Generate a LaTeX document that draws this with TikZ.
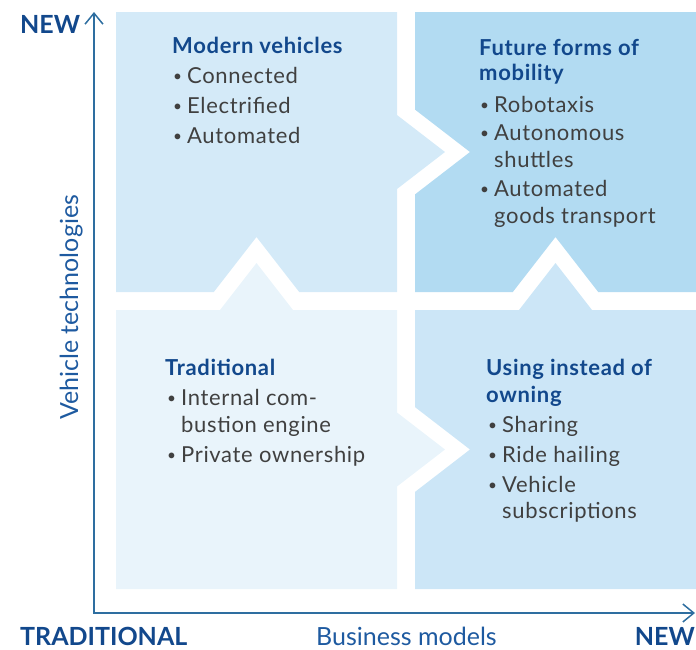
\documentclass[tikz,border=0pt]{standalone}
\usepackage{fontspec}
\setmainfont{Lato}
\newfontfamily\spaced[LetterSpace=3]{Lato}
\usetikzlibrary{arrows.meta}
\definecolor{qTL}{RGB}{212,234,248}
\definecolor{qTR}{RGB}{178,219,242}
\definecolor{qBL}{RGB}{233,244,251}
\definecolor{qBR}{RGB}{204,230,247}
\definecolor{headc}{RGB}{18,72,140}
\definecolor{axlblc}{RGB}{30,90,160}
\definecolor{bodyc}{RGB}{64,64,64}
\definecolor{axisc}{RGB}{46,110,160}
\newcommand\qbul{\makebox[14pt][l]{\raisebox{1.6pt}{\scalebox{0.7}{\textbullet}}}}
\begin{document}
\begin{tikzpicture}[x=1pt,y=-1pt,
  qhead/.style={font=\spaced\fontsize{22}{26}\selectfont\bfseries, text=headc, anchor=base west, inner sep=0pt},
  qitem/.style={font=\spaced\fontsize{22}{26}\selectfont, text=bodyc, anchor=base west, inner sep=0pt},
  axbold/.style={font=\fontsize{25}{30}\selectfont\bfseries, text=headc, inner sep=0pt},
  axname/.style={font=\fontsize{25}{30}\selectfont, text=axlblc, inner sep=0pt},
  axisline/.style={draw=axisc, line width=1.5pt, {Straight Barb[length=11pt,width=18pt]}-{Straight Barb[length=11pt,width=18pt]}}
]
\useasboundingbox (0,0) rectangle (696,649);
% quadrants
\fill[qTL] (116,12) -- (397,12) -- (397,115) -- (445,152) -- (397,189) -- (397,292)
  -- (299.2,292) -- (256.5,237) -- (213.8,292) -- (116,292) -- cycle;
\fill[qTR] (415,12) -- (696,12) -- (696,292) -- (598.2,292) -- (555.5,237) -- (512.8,292)
  -- (415,292) -- (415,194.4) -- (470,152) -- (415,109.6) -- cycle;
\fill[qBL] (116,310) -- (220,310) -- (256.5,263) -- (293,310) -- (397,310) -- (397,412.5)
  -- (445,449.5) -- (397,486.5) -- (397,589) -- (116,589) -- cycle;
\fill[qBR] (415,310) -- (519,310) -- (555.5,263) -- (592,310) -- (696,310) -- (696,589)
  -- (415,589) -- (415,491.9) -- (470,449.5) -- (415,407.1) -- cycle;
% axes
\coordinate (ytop) at (94,12);
\coordinate (origin) at (94,613);
\coordinate (xend) at (695,613);
\draw[axisline] (ytop) -- (origin) -- (xend);
\node[axbold, anchor=base west] (newy) at (20,33) {NEW};
\node[axbold, anchor=base west] (trad) at (20,645) {TRADITIONAL};
\node[axname, anchor=base west] (bm) at (316,645) {Business models};
\node[axbold, anchor=base east] (newx) at (695,645) {NEW};
\node[axname, anchor=base west, rotate=90] (vt) at (78,420) {Vehicle technologies};
% top left
\node[qhead] (tlh) at (172,53) {Modern vehicles};
\node[qitem] (tl1) at (173,83) {\qbul Connected};
\node[qitem] (tl2) at (173,113) {\qbul Electrified};
\node[qitem] (tl3) at (173,143) {\qbul Automated};
% top right
\node[qhead] (trh1) at (479,55) {Future forms of};
\node[qhead] (trh2) at (479,80) {mobility};
\node[qitem] (tr1) at (480,112) {\qbul Robotaxis};
\node[qitem] (tr2) at (480,140) {\qbul Autonomous};
\node[qitem] (tr2b) at (494,167) {shuttles};
\node[qitem] (tr3) at (480,196) {\qbul Automated};
\node[qitem] (tr3b) at (494,223) {goods transport};
% bottom left
\node[qhead] (blh) at (165,375) {Traditional};
\node[qitem] (bl1) at (167,405) {\qbul Internal com-};
\node[qitem] (bl1b) at (181,432) {bustion engine};
\node[qitem] (bl2) at (167,462) {\qbul Private ownership};
% bottom right
\node[qhead] (brh1) at (486,375) {Using instead of};
\node[qhead] (brh2) at (486,402) {owning};
\node[qitem] (br1) at (488,432) {\qbul Sharing};
\node[qitem] (br2) at (488,462) {\qbul Ride hailing};
\node[qitem] (br3) at (488,492) {\qbul Vehicle};
\node[qitem] (br3b) at (502,518) {subscriptions};
\end{tikzpicture}
\end{document}
